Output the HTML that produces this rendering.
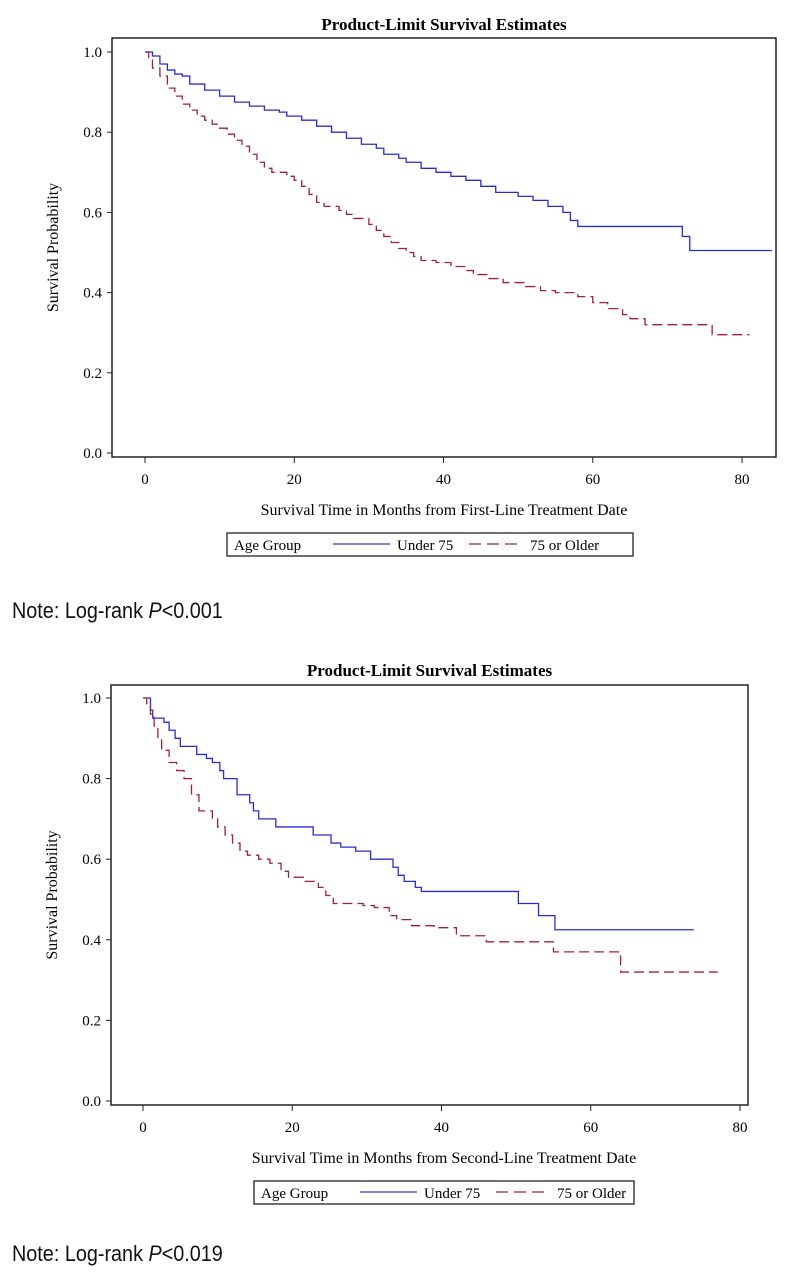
<!DOCTYPE html>
<html><head><meta charset="utf-8">
<style>
body{margin:0;background:#fff;width:793px;height:1280px;overflow:hidden}
svg{position:absolute;left:0;top:0}
.note{position:absolute;left:12px;font-family:"Liberation Sans",sans-serif;font-size:22px;color:#111;transform:scaleX(0.9);transform-origin:left}
</style></head><body>
<svg id="s" width="793" height="1280"></svg>
<div class="note" style="top:598px">Note: Log-rank <i>P</i>&lt;0.001</div>
<div class="note" style="top:1241px">Note: Log-rank <i>P</i>&lt;0.019</div>
<script>
const xTicks=[0,20,40,60,80];
const yTicks=[0.0,0.2,0.4,0.6,0.8,1.0];
const c1Under=[[0,1.0],[1,0.99],[2,0.97],[3,0.955],[4,0.945],[5,0.94],[6,0.92],[8,0.905],[10,0.89],[12,0.875],[14,0.865],[16,0.855],[18,0.85],[19,0.84],[21,0.83],[23,0.815],[25,0.8],[27,0.785],[29,0.77],[31,0.76],[32,0.745],[34,0.735],[35,0.725],[37,0.71],[39,0.7],[41,0.69],[43,0.68],[45,0.665],[47,0.65],[50,0.64],[52,0.63],[54,0.615],[56,0.6],[57,0.58],[58,0.565],[72,0.54],[73,0.505],[84,0.505]];
const c1Older=[[0,1],[0.5,0.98],[1,0.96],[2,0.94],[3,0.91],[4,0.89],[5,0.87],[6,0.855],[7,0.84],[8,0.83],[9,0.82],[10,0.81],[11,0.795],[12,0.78],[13,0.765],[14,0.745],[15,0.725],[16,0.71],[17,0.7],[19,0.69],[20,0.68],[21,0.665],[22,0.645],[23,0.625],[24,0.615],[26,0.605],[27,0.595],[28,0.585],[30,0.57],[31,0.555],[32,0.54],[33,0.525],[34,0.51],[35,0.5],[36,0.49],[37,0.48],[39,0.475],[41,0.465],[43,0.455],[44,0.445],[46,0.435],[48,0.425],[51,0.415],[53,0.405],[55,0.4],[58,0.39],[60,0.375],[62,0.36],[64,0.345],[65,0.335],[67,0.32],[73,0.32],[76,0.295],[81,0.295]];
const c2Under=[[0,1.0],[1,0.97],[1.3,0.95],[2.8,0.94],[3.5,0.92],[4.3,0.9],[5,0.88],[7.2,0.86],[8.5,0.85],[9.3,0.84],[10.3,0.82],[10.8,0.8],[12.6,0.76],[14.3,0.74],[14.8,0.72],[15.5,0.7],[17.8,0.68],[22.8,0.66],[25.2,0.64],[26.5,0.63],[28.5,0.62],[30.5,0.6],[33.5,0.58],[34.2,0.56],[35,0.545],[36.5,0.53],[37.3,0.52],[50.3,0.49],[53,0.46],[55.2,0.425],[73.8,0.425]];
const c2Older=[[0,1],[0.5,0.98],[1,0.96],[1.5,0.93],[2,0.9],[2.5,0.87],[3.5,0.84],[4.5,0.82],[5.5,0.8],[6.5,0.76],[7.5,0.72],[9.3,0.7],[10,0.68],[11,0.66],[12,0.64],[13,0.62],[14,0.61],[15.5,0.6],[17,0.59],[18.5,0.57],[19.5,0.555],[21.5,0.545],[23.5,0.53],[24.5,0.51],[25.5,0.49],[29.5,0.485],[31,0.48],[33,0.46],[34,0.45],[36,0.435],[39,0.43],[42,0.41],[46,0.395],[55,0.37],[64,0.32],[77,0.32]];
const NS="http://www.w3.org/2000/svg";
const svg=document.getElementById('s');
function mk(tag,attrs,parent,text){const e=document.createElementNS(NS,tag);for(const k in attrs)e.setAttribute(k,attrs[k]);if(text!=null)e.textContent=text;(parent||svg).appendChild(e);return e;}
const F='"Liberation Serif",serif';
function chart(cfg,id){
 const g=mk('g',{},svg);
 
 
 const sx=v=>cfg.x0+v*(cfg.x80-cfg.x0)/80;
 const sy=v=>cfg.y0+v*(cfg.y1-cfg.y0);
 const t=mk('text',{x:(cfg.bl+cfg.br)/2,y:cfg.titleY,'text-anchor':'middle','font-family':F,'font-size':17,'font-weight':'bold'},g,'Product-Limit Survival Estimates');
 
 
 const box=mk('rect',{x:cfg.bl,y:cfg.bt,width:cfg.br-cfg.bl,height:cfg.bb-cfg.bt,fill:'none',stroke:'#222','stroke-width':1.5},g);
 
 
 yTicks.forEach(v=>{mk('line',{x1:cfg.bl-5,x2:cfg.bl,y1:sy(v),y2:sy(v),stroke:'#222'},g);
  const l=mk('text',{x:cfg.bl-10,y:sy(v)+5,'text-anchor':'end','font-family':F,'font-size':15},g,v.toFixed(1));
  
  });
 xTicks.forEach(v=>{mk('line',{x1:sx(v),x2:sx(v),y1:cfg.bb,y2:cfg.bb+6,stroke:'#222'},g);
  const l=mk('text',{x:sx(v),y:cfg.bb+27,'text-anchor':'middle','font-family':F,'font-size':15},g,String(v));
  
  });
 const yt=mk('text',{x:0,y:0,transform:`translate(${cfg.bl-54},${(cfg.bt+cfg.bb)/2}) rotate(-90)`,'text-anchor':'middle','font-family':F,'font-size':16},g,'Survival Probability');
 
 
 const xt=mk('text',{x:cfg.xtX,y:cfg.bb+58,'text-anchor':'middle','font-family':F,'font-size':16},g,cfg.xtitle);
 
 
 function step(data,color,dash,name){let d='M'+sx(data[0][0])+','+sy(data[0][1]);
  for(let i=1;i<data.length;i++){d+=' H'+sx(data[i][0])+' V'+sy(data[i][1]);}
  const p=mk('path',{d:d,fill:'none',stroke:color,'stroke-width':1.3,'stroke-dasharray':dash},g);
  
  }
 step(cfg.under,'#2b2bd6','none','line-under-75');
 step(cfg.older,'#a0203a','10,5','line-75-or-older');
 const lg=mk('g',{},g);
 
 
 const L=cfg.lx,T=cfg.ly;
 mk('rect',{x:L,y:T,width:cfg.lw,height:23,fill:'#fff',stroke:'#222','stroke-width':1.3},lg);
 mk('text',{x:L+7,y:T+17,'font-family':F,'font-size':15},lg,'Age Group');
 mk('line',{x1:L+106,x2:L+163,y1:T+11,y2:T+11,stroke:'#3b3bc8','stroke-width':1.3},lg);
 mk('text',{x:L+170,y:T+17,'font-family':F,'font-size':15},lg,'Under 75');
 mk('line',{x1:L+242,x2:L+294,y1:T+11,y2:T+11,stroke:'#a0203a','stroke-width':1.3,'stroke-dasharray':'12,6'},lg);
 mk('text',{x:L+303,y:T+17,'font-family':F,'font-size':15},lg,'75 or Older');
}
chart({bl:112,br:776,bt:38,bb:457,x0:145,x80:742,y0:453,y1:52,titleY:30,xtitle:'Survival Time in Months from First-Line Treatment Date',xtX:444,lx:227,ly:533,lw:406,under:c1Under,older:c1Older},1);
chart({bl:111,br:748,bt:685,bb:1105,x0:143,x80:740,y0:1101,y1:698,titleY:676,xtitle:'Survival Time in Months from Second-Line Treatment Date',xtX:444,lx:254,ly:1181,lw:380,under:c2Under,older:c2Older},2);
</script>
</body></html>
